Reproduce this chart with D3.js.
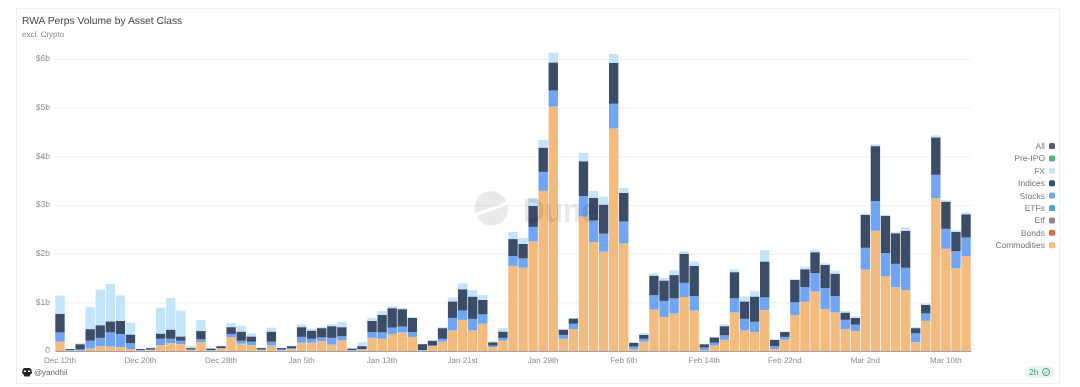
<!DOCTYPE html>
<meta charset="utf-8">
<style>
  body { margin: 0; background: #fff; }
  text { font-family: "Liberation Sans", Arial, sans-serif; text-rendering: geometricPrecision; }
  svg { filter: blur(0.35px); }
</style>
<script src="https://d3js.org/d3.v7.min.js"></script>
<div id="chart"></div>
<script>
// values in $b, one per day from Dec 12th to Mar 12th
var commodities = [.19,.01,.01,.05,.10,.09,.08,.04,.01,.02,.12,.16,.14,.02,.18,.01,.05,.28,.15,.12,.02,.11,.01,.04,.17,.17,.20,.13,.22,.01,.03,.27,.25,.35,.38,.29,.01,.10,.19,.42,.64,.42,.56,.08,.21,1.75,1.71,2.25,3.29,5.02,.25,.45,2.76,2.24,2.04,4.57,2.21,.03,.19,.85,.70,.77,1.11,.83,.01,.11,.23,.79,.42,.39,.84,.04,.23,.74,1.01,1.22,.86,.79,.45,.41,1.67,2.47,1.53,1.31,1.25,.18,.62,3.14,2.10,1.70,1.95];
var stocks = [.19,.01,.02,.16,.17,.29,.27,.12,.01,.01,.13,.09,.07,.01,.06,.01,.01,.07,.06,.07,.01,.08,.02,.015,.12,.08,.08,.14,.08,.01,.01,.12,.13,.13,.12,.10,.01,.01,.06,.26,.19,.24,.19,.03,.06,.20,.19,.30,.39,.33,.08,.11,.42,.44,.37,.51,.45,.06,.06,.30,.33,.31,.29,.30,.06,.06,.09,.29,.24,.21,.26,.06,.06,.26,.30,.38,.43,.34,.19,.13,.45,.61,.48,.48,.46,.18,.15,.48,.41,.35,.38];
var indices = [.38,.02,.11,.24,.26,.23,.27,.18,.02,.03,.11,.19,.09,.03,.17,.03,.04,.14,.19,.11,.03,.21,.03,.045,.20,.17,.19,.24,.19,.03,.06,.23,.36,.40,.36,.29,.12,.10,.22,.34,.44,.46,.30,.07,.13,.35,.30,.43,.50,.58,.11,.11,.72,.47,.60,.84,.59,.08,.08,.40,.42,.48,.60,.62,.07,.11,.19,.54,.36,.52,.74,.13,.10,.46,.37,.43,.48,.46,.15,.14,.68,1.13,.77,.63,.76,.11,.18,.77,.56,.40,.48];
var fx = [.38,0,.02,.45,.73,.77,.52,.24,0,.01,.53,.65,.53,.05,.23,0,.01,.08,.12,.06,.01,.08,0,.01,.06,.04,.02,.04,.11,0,.08,.06,.08,.04,.02,.02,0,.01,.02,.08,.12,.13,.10,.02,.07,.15,.12,.16,.16,.20,.01,.01,.17,.14,.16,.18,.10,.01,.04,.05,.05,.10,.05,.09,.01,.01,.04,.06,.10,.11,.23,.01,.01,.02,.05,.05,.03,.06,.03,.03,.03,.04,.02,.02,.07,.02,.03,.04,.03,.03,.04];

var seriesNames = ["commodities", "stocks", "indices", "fx"];
var seriesColors = {commodities: "#f3bb7d", stocks: "#6fa5f4", indices: "#3b4c69", fx: "#c3e5f9"};

var yTicks = [0, 1, 2, 3, 4, 5, 6];
var xTickLabels = ["Dec 12th", "Dec 20th", "Dec 28th", "Jan 5th", "Jan 13th", "Jan 21st", "Jan 29th", "Feb 6th", "Feb 14th", "Feb 22nd", "Mar 2nd", "Mar 10th"];
var legendNames = ["All", "Pre-IPO", "FX", "Indices", "Stocks", "ETFs", "Etf", "Bonds", "Commodities"];
var legendColors = ["#595e66", "#4fb47f", "#c3e5f9", "#3b4c69", "#6fa5f4", "#47abc9", "#8d8d8d", "#e8684a", "#f3bb7d"];

var width = 1080, height = 387;
var margin = {top: 59, right: 109, bottom: 36, left: 55};

var svg = d3.select("#chart")
  .append("svg")
    .attr("width", width)
    .attr("height", height)
    .style("display", "block");

// card
svg.append("rect")
  .attr("x", 16.5).attr("y", 8.5)
  .attr("width", 1043).attr("height", 375)
  .attr("fill", "#fff").attr("stroke", "#f0f0f0");

svg.append("text").attr("x", 22).attr("y", 23.5)
  .attr("font-size", 10.3).attr("fill", "#444").text("RWA Perps Volume by Asset Class");
svg.append("text").attr("x", 22).attr("y", 37)
  .attr("font-size", 8).attr("fill", "#888").text("excl. Crypto");

// one band per day
var days = d3.range(commodities.length);
var x = d3.scaleBand()
  .domain(days)
  .range([margin.left, width - margin.right])
  .paddingInner(0.07).paddingOuter(0.03);

var y = d3.scaleLinear()
  .domain([0, 6])
  .range([height - margin.bottom, margin.top]);

// y axis and grid
var yAxis = svg.append("g")
  .attr("transform", "translate(" + margin.left + ",-1)")
  .call(d3.axisLeft(y).tickValues(yTicks).tickSize(0).tickPadding(5)
    .tickFormat(function(d) { return d === 0 ? "0" : "$" + d + "b"; }));
yAxis.select(".domain").remove();
yAxis.selectAll("text").attr("font-size", 8.5).attr("fill", "#8a8a8a").style("font-family", null);

svg.append("g").selectAll("line")
  .data(yTicks.slice(1))
  .join("line")
    .attr("x1", margin.left).attr("x2", width - margin.right)
    .attr("y1", function(d) { return y(d) + 0.5; })
    .attr("y2", function(d) { return y(d) + 0.5; })
    .attr("stroke", "#f0f0f0");

// bars
var rows = days.map(function(i) {
  return {day: i, commodities: commodities[i], stocks: stocks[i], indices: indices[i], fx: fx[i]};
});
var stacked = d3.stack().keys(seriesNames)(rows);

svg.append("g").selectAll("g")
  .data(stacked)
  .join("g")
    .attr("fill", function(d) { return seriesColors[d.key]; })
  .selectAll("rect")
  .data(function(d) { return d; })
  .join("rect")
    .attr("x", function(d) { return x(d.data.day); })
    .attr("width", x.bandwidth())
    .attr("y", function(d) { return y(d[1]); })
    .attr("height", function(d) { return y(d[0]) - y(d[1]); });

// x axis, a label every 8 days
var tickDays = xTickLabels.map(function(d, i) { return i * 8; });
var xAxis = svg.append("g")
  .attr("transform", "translate(0," + y(0) + ")")
  .call(d3.axisBottom(x).tickValues(tickDays).tickSize(0).tickPadding(6)
    .tickFormat(function(d) { return xTickLabels[d / 8]; }));
xAxis.select(".domain").attr("stroke", "#8a8a8a").attr("stroke-width", 0.8);
xAxis.selectAll("text").attr("font-size", 8).attr("fill", "#8a8a8a").style("font-family", null);

// watermark sits over the bars
var wm = svg.append("g").attr("fill", "#000").attr("fill-opacity", 0.085);
wm.append("path").attr("d", "M475.5 213 A16 16 0 0 1 506.5 202 Z");
wm.append("path").attr("d", "M477 216 L507 205 A16 16 0 0 1 477 216 Z");
wm.append("text").attr("x", 523).attr("y", 222)
  .attr("font-size", 34).attr("font-weight", "bold")
  .attr("textLength", 75).attr("lengthAdjust", "spacingAndGlyphs").text("Dune");

// legend
var legend = svg.append("g").selectAll("g")
  .data(legendNames)
  .join("g")
    .attr("transform", function(d, i) { return "translate(0," + (146 + i * 12.4) + ")"; });
legend.append("text")
  .attr("x", 1045).attr("y", 3)
  .attr("text-anchor", "end")
  .attr("font-size", 8.5).attr("fill", "#777")
  .text(function(d) { return d; });
legend.append("rect")
  .attr("x", 1049).attr("y", -3)
  .attr("width", 6).attr("height", 6).attr("rx", 1.5)
  .attr("fill", function(d, i) { return legendColors[i]; });

// footer
var icon = svg.append("g").attr("transform", "translate(27,372)").attr("fill", "#222");
icon.append("rect").attr("x", -4.5).attr("y", -4).attr("width", 9).attr("height", 7).attr("rx", 2.5);
icon.append("rect").attr("x", -5).attr("y", -0.5).attr("width", 10).attr("height", 1.5);
icon.append("rect").attr("x", -3).attr("y", 2).attr("width", 6).attr("height", 2.5).attr("rx", 1);
icon.append("rect").attr("x", -3.2).attr("y", -1.4).attr("width", 2.2).attr("height", 1.4).attr("fill", "#fff");
icon.append("rect").attr("x", 1).attr("y", -1.4).attr("width", 2.2).attr("height", 1.4).attr("fill", "#fff");
svg.append("text").attr("x", 34).attr("y", 375)
  .attr("font-size", 8).attr("fill", "#666").text("@yandhii");

svg.append("rect").attr("x", 1025).attr("y", 366).attr("width", 29).attr("height", 12).attr("rx", 6).attr("fill", "#e7f5ec");
svg.append("text").attr("x", 1029).attr("y", 375)
  .attr("font-size", 8.5).attr("fill", "#4a9a6c").text("2h");
svg.append("circle").attr("cx", 1046).attr("cy", 372).attr("r", 3.5)
  .attr("fill", "none").attr("stroke", "#4a9a6c");
svg.append("path").attr("d", "M1044.5 372 L1045.7 373.3 L1047.7 370.8")
  .attr("fill", "none").attr("stroke", "#4a9a6c").attr("stroke-width", 0.8);
</script>
